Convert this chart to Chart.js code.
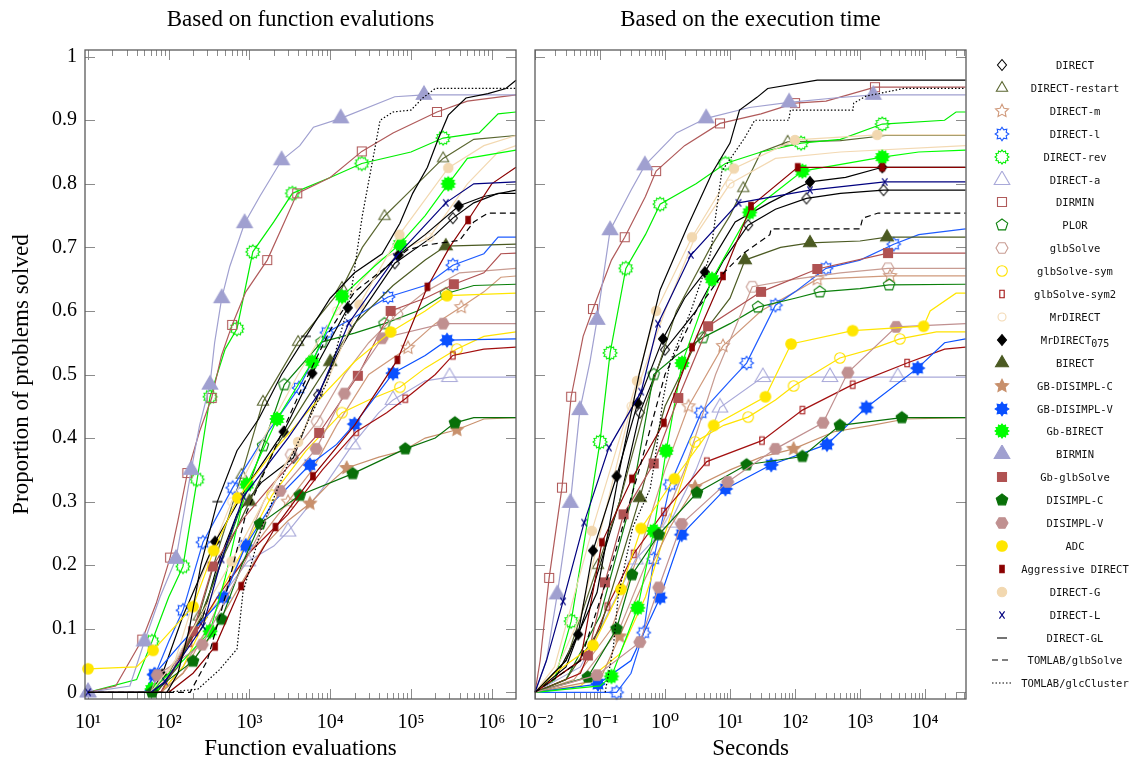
<!DOCTYPE html>
<html><head><meta charset="utf-8">
<script src="https://cdn.jsdelivr.net/npm/chart.js@4.4.1/dist/chart.umd.min.js"></script>
<style>
html,body{margin:0;padding:0;background:#fff;width:1129px;height:761px;overflow:hidden;}
#c1{position:absolute;left:0;top:0;}
#c2{position:absolute;left:520px;top:0;}
#legend{position:absolute;left:985px;top:0;width:144px;height:761px;}
.li{position:absolute;left:0;width:144px;height:20px;}
.li canvas{position:absolute;left:5px;top:1px;}
.li span{position:absolute;left:36px;width:108px;text-align:center;font-family:'DejaVu Sans Mono',monospace;font-size:10.5px;line-height:20px;color:#111;white-space:nowrap;}
.li sub{font-size:10px;vertical-align:-3px;line-height:0;}
</style></head><body>
<canvas id="c1" width="530" height="761"></canvas>
<canvas id="c2" width="460" height="761"></canvas>
<div id="legend"></div>
<script>
// ---------- labels ----------
const NAMES = ['DIRECT','DIRECT-restart','DIRECT-m','DIRECT-l','DIRECT-rev','DIRECT-a','DIRMIN','PLOR','glbSolve','glbSolve-sym','glbSolve-sym2','MrDIRECT','MrDIRECT075','BIRECT','GB-DISIMPL-C','GB-DISIMPL-V','Gb-BIRECT','BIRMIN','Gb-glbSolve','DISIMPL-C','DISIMPL-V','ADC','Aggressive DIRECT','DIRECT-G','DIRECT-L','DIRECT-GL','TOMLAB/glbSolve','TOMLAB/glcCluster'];
const feTicks = [1e1,1e2,1e3,1e4,1e5,1e6];
const feTickLabels = ['10¹','10²','10³','10⁴','10⁵','10⁶'];
const tTicks = [1e-2,1e-1,1e0,1e1,1e2,1e3,1e4];
const tTickLabels = ['10⁻²','10⁻¹','10⁰','10¹','10²','10³','10⁴'];
const yTicks = [0,0.1,0.2,0.3,0.4,0.5,0.6,0.7,0.8,0.9,1];
const yTickLabels = ['0','0.1','0.2','0.3','0.4','0.5','0.6','0.7','0.8','0.9','1'];

// ---------- data: [x, proportion, marker?] ----------
// function evaluations
const fe_DIRECT = [[10,0],[70,0],[110,0.03],[190,0.09],[265,0.119,1],[400,0.2],[700,0.28],[1400,0.33],[3500,0.369,1],[5000,0.42],[7100,0.468,1],[12000,0.53],[25000,0.6],[63000,0.675,1],[120000,0.7],[200000,0.72],[330000,0.746,1],[600000,0.77],[1200000,0.785],[2000000,0.785]];
const fe_DIRECTrestart = [[10,0],[60,0],[100,0.03],[150,0.07],[235,0.119,1],[400,0.22],[800,0.342,1],[1470,0.457,1],[4000,0.551,1],[14000,0.636,1],[25000,0.7],[47000,0.749,1],[100000,0.79],[250000,0.84,1],[600000,0.87],[2000000,0.876]];
const fe_DIRECTm = [[10,0],[80,0],[150,0.03],[300,0.1],[600,0.18],[1500,0.25],[3000,0.3,1],[6000,0.35],[12000,0.42],[30000,0.5],[92000,0.542,1],[200000,0.58],[420000,0.606,1],[800000,0.63],[1300000,0.653],[2000000,0.655]];
const fe_DIRECTl = [[10,0],[50,0],[68,0.028,1],[100,0.08],[150,0.129,1],[265,0.236,1],[620,0.322,1],[1500,0.4],[4100,0.479,1],[9100,0.566,1],[20000,0.59],[52000,0.622,1],[150000,0.64],[330000,0.672,1],[800000,0.69],[1200000,0.716],[2000000,0.716]];
const fe_DIRECTrev = [[10,0],[40,0.02],[62,0.08,1],[100,0.15],[150,0.198,1],[225,0.335,1],[325,0.465,1],[500,0.54],[700,0.572,1],[1100,0.693,1],[2000,0.74],[3400,0.785,1],[10000,0.81],[24600,0.832,1],[100000,0.85],[250000,0.872,1],[700000,0.88],[1200000,0.91],[2000000,0.913]];
const fe_DIRECTa = [[10,0,1],[60,0],[120,0.05],[300,0.12],[950,0.206,1],[2000,0.23],[3000,0.253,1],[8000,0.32],[19000,0.39,1],[40000,0.44],[60000,0.46,1],[150000,0.49],[300000,0.496,1],[2000000,0.496]];
const fe_DIRMIN = [[10,0],[22,0.01],[47,0.083,1],[70,0.14],[104,0.212,1],[130,0.27],[170,0.345,1],[240,0.41],[340,0.463,1],[450,0.53],[610,0.578,1],[900,0.63],[1660,0.68,1],[2500,0.73],[3900,0.785,1],[10000,0.81],[24600,0.851,1],[60000,0.88],[210000,0.913,1],[500000,0.93],[2000000,0.94]];
const fe_PLOR = [[10,0],[70,0],[120,0.04],[250,0.12],[600,0.25],[1470,0.388,1],[2700,0.484,1],[7800,0.551,1],[20000,0.565],[47000,0.58,1],[120000,0.6],[270000,0.627,1],[600000,0.64],[2000000,0.642]];
const fe_glbSolve = [[10,0],[80,0],[150,0.04],[300,0.1],[700,0.2],[1500,0.3],[3300,0.374,1],[6900,0.426,1],[15000,0.5],[30000,0.55],[67000,0.595,1],[150000,0.63],[400000,0.66],[2000000,0.667]];
const fe_glbSolveSym = [[10,0],[80,0],[150,0.04],[300,0.12],[800,0.22],[1900,0.31,1],[5000,0.38],[14000,0.44,1],[30000,0.46],[73000,0.48,1],[150000,0.51],[370000,0.54,1],[800000,0.56],[2000000,0.567]];
const fe_glbSolveSym2 = [[10,0],[80,0],[180,0.078,1],[400,0.15],[1000,0.22],[3000,0.28],[8000,0.35],[21000,0.41,1],[50000,0.44],[85000,0.462,1],[200000,0.5],[330000,0.53,1],[800000,0.54],[2000000,0.543]];
const fe_MrDIRECT = [[10,0],[70,0],[120,0.05],[250,0.18],[600,0.3,1],[1500,0.4],[4000,0.5],[12000,0.6,1],[40000,0.68],[170000,0.716,1],[500000,0.8],[1200000,0.85],[2000000,0.86]];
const fe_MrDIRECT075 = [[10,0],[60,0],[83,0.028,1],[150,0.12],[375,0.237,1],[1000,0.33],[2650,0.41,1],[6000,0.502,1],[16500,0.605,1],[35000,0.65],[70000,0.688,1],[150000,0.72],[390000,0.765,1],[800000,0.78],[2000000,0.79]];
const fe_BIRECT = [[10,0],[70,0],[130,0.04],[250,0.12],[500,0.22],[1000,0.3,1],[2000,0.38],[5000,0.46],[10000,0.52,1],[20000,0.58],[60000,0.64],[150000,0.68],[270000,0.702,1],[2000000,0.705]];
const fe_GBDISIMPLC = [[10,0],[80,0],[150,0.03],[300,0.08],[700,0.16],[1500,0.23],[3000,0.27],[5600,0.297,1],[10000,0.33],[16000,0.353,1],[40000,0.37],[80000,0.38],[150000,0.4],[370000,0.413,1],[800000,0.43],[2000000,0.432]];
const fe_GBDISIMPLV = [[10,0],[50,0],[66,0.028,1],[150,0.08],[480,0.149,1],[900,0.231,1],[2000,0.3],[5600,0.358,1],[12000,0.39],[20000,0.422,1],[60000,0.502,1],[150000,0.53],[280000,0.554,1],[2000000,0.556]];
const fe_GbBIRECT = [[10,0],[50,0],[62,0.005,1],[150,0.05],[325,0.096,1],[500,0.18],[930,0.327,1],[2200,0.43,1],[6000,0.52,1],[14000,0.623,1],[35000,0.67],[73000,0.705,1],[150000,0.75],[290000,0.8,1],[500000,0.84],[2000000,0.853]];
const fe_BIRMIN = [[10,0,1],[33,0.01],[50,0.08,1],[78,0.15],[123,0.21,1],[158,0.29],[190,0.35,1],[241,0.42],[324,0.484,1],[370,0.55],[453,0.62,1],[570,0.67],[870,0.738,1],[1340,0.78],[2500,0.837,1],[4200,0.86],[6200,0.889],[13500,0.903,1],[63000,0.937],[145000,0.94,1],[2000000,0.94]];
const fe_GbglbSolve = [[10,0],[80,0],[200,0.096,1],[350,0.198,1],[800,0.27],[2000,0.33],[7300,0.408,1],[22000,0.498,1],[56000,0.6,1],[150000,0.62],[340000,0.642,1],[800000,0.66],[1300000,0.69],[2000000,0.691]];
const fe_DISIMPLC = [[10,0],[62,0,1],[100,0.02],[200,0.049,1],[450,0.115,1],[800,0.2],[1350,0.265,1],[4200,0.31,1],[19000,0.344,1],[85000,0.383,1],[200000,0.4],[350000,0.424,1],[600000,0.432],[2000000,0.432]];
const fe_DISIMPLV = [[10,0],[60,0],[72,0.027,1],[260,0.075,1],[700,0.18],[2400,0.317,1],[6700,0.383,1],[15000,0.47,1],[44000,0.557,1],[250000,0.58,1],[2000000,0.58]];
const fe_ADC = [[10,0.037,1],[40,0.04],[64,0.066,1],[200,0.135,1],[360,0.223,1],[720,0.306,1],[2000,0.38],[6000,0.45],[20000,0.52],[56000,0.567,1],[150000,0.6],[280000,0.624,1],[2000000,0.628]];
const fe_Aggressive = [[10,0],[100,0],[200,0.03],[375,0.072,1],[790,0.167,1],[2100,0.26,1],[6100,0.34,1],[20000,0.42],[68000,0.523,1],[160000,0.638,1],[300000,0.7],[510000,0.743,1],[1000000,0.8],[2000000,0.826]];
const fe_DIRECTG = [[10,0],[60,0],[120,0.05],[600,0.206,1],[1500,0.3],[4000,0.394,1],[10000,0.5],[23000,0.61,1],[72000,0.72,1],[290000,0.825,1],[800000,0.86],[2000000,0.876]];
const fe_DIRECTL = [[10,0,1],[60,0],[90,0.017,1],[265,0.104,1],[450,0.209,1],[840,0.308,1],[3000,0.4],[7300,0.471,1],[17000,0.581,1],[65000,0.685,1],[270000,0.77,1],[600000,0.8],[2000000,0.803]];
const fe_DIRECTGL = [[10,0],[95,0],[130,0.03],[180,0.1],[250,0.2],[400,0.3,1],[700,0.38],[1300,0.43],[2500,0.5],[5000,0.56,1],[10000,0.62],[20000,0.66],[44000,0.69],[73000,0.738],[105000,0.785],[160000,0.826],[215000,0.869],[290000,0.908],[480000,0.935],[900000,0.942],[1500000,0.95],[2000000,0.963]];
const fe_TOMLABglb = [[10,0],[184,0],[300,0.05],[500,0.15],[900,0.28],[2000,0.38],[4500,0.48],[10000,0.57],[20000,0.63],[45000,0.665],[90000,0.696],[160000,0.704],[400000,0.711],[600000,0.74],[900000,0.754],[2000000,0.754]];
const fe_TOMLABglc = [[93,0],[230,0.005],[420,0.035],[700,0.068],[830,0.157],[1420,0.26],[3000,0.36],[6000,0.44],[9300,0.49],[17700,0.62],[25000,0.75],[41500,0.9],[60000,0.913],[100000,0.916],[140000,0.935],[200000,0.95],[2000000,0.95]];

// execution time (seconds)
const t_DIRECT = [[0.01,0],[0.02,0.02],[0.05,0.1],[0.1,0.2],[0.2,0.3],[0.41,0.44,1],[1.0,0.539,1],[3,0.6],[8,0.68],[19,0.735,1],[50,0.76],[150,0.777,1],[500,0.785],[2300,0.79,1],[42000,0.79]];
const t_DIRECTrestart = [[0.01,0],[0.03,0.05],[0.093,0.2,1],[0.2,0.3],[0.5,0.45],[1.5,0.6],[5,0.7],[10,0.75],[16,0.793,1],[30,0.85],[77,0.866,1],[500,0.868],[2500,0.876],[42000,0.876]];
const t_DIRECTm = [[0.01,0],[0.04,0.02],[0.15,0.1],[0.4,0.22],[1,0.35],[2.3,0.45,1],[7.8,0.545,1],[30,0.6],[100,0.63],[220,0.65,1],[2900,0.655,1],[42000,0.655]];
const t_DIRECTl = [[0.01,0],[0.18,0,1],[0.3,0.03],[0.47,0.094,1],[0.67,0.21,1],[1.2,0.327,1],[3.6,0.44,1],[10,0.49],[18,0.518,1],[50,0.609,1],[100,0.63],[300,0.667,1],[1000,0.68],[3300,0.705,1],[8000,0.72],[42000,0.729]];
const t_DIRECTrev = [[0.01,0],[0.02,0.02],[0.036,0.112,1],[0.06,0.25],[0.1,0.394,1],[0.143,0.534,1],[0.25,0.667,1],[0.5,0.72],[0.84,0.768,1],[3,0.8],[8.5,0.832,1],[30,0.85],[124,0.864,1],[500,0.87],[2200,0.894,1],[20000,0.9],[30000,0.913],[42000,0.913]];
const t_DIRECTa = [[0.01,0],[0.05,0.04],[0.1,0.1],[0.35,0.209,1],[1.2,0.267,1],[3,0.35],[7,0.448,1],[32,0.496,1],[345,0.496,1],[3800,0.496,1],[42000,0.496]];
const t_DIRMIN = [[0.01,0],[0.012,0.05],[0.0165,0.18,1],[0.026,0.322,1],[0.036,0.465,1],[0.055,0.56],[0.078,0.603,1],[0.15,0.68],[0.24,0.716,1],[0.5,0.78],[0.73,0.82,1],[2,0.86],[7,0.895,1],[30,0.91],[100,0.927,1],[300,0.93],[1700,0.952,1],[42000,0.952]];
const t_PLOR = [[0.01,0],[0.03,0.02],[0.1,0.12],[0.3,0.3],[0.67,0.5,1],[1.5,0.53],[3.8,0.558,1],[10,0.58],[27,0.606,1],[100,0.62],[240,0.63,1],[1000,0.635],[2800,0.641,1],[42000,0.642]];
const t_glbSolve = [[0.01,0],[0.05,0.02],[0.2,0.1],[0.6,0.22],[2,0.35],[6,0.5],[22,0.638,1],[100,0.65],[500,0.66],[2700,0.667,1],[42000,0.667]];
const t_glbSolveSym = [[0.01,0],[0.05,0.01],[0.2,0.06],[0.5,0.15],[1,0.25],[2.9,0.394,1],[8,0.42],[19,0.433,1],[50,0.46],[95,0.482,1],[490,0.526,1],[1500,0.54],[4100,0.556,1],[15000,0.567],[42000,0.567]];
const t_glbSolveSym2 = [[0.01,0],[0.05,0.03],[0.13,0.135,1],[0.33,0.218,1],[0.96,0.284,1],[4.4,0.363,1],[31,0.396,1],[130,0.444,1],[770,0.484,1],[5300,0.518,1],[20000,0.54],[42000,0.543]];
const t_MrDIRECT = [[0.01,0],[0.02,0.03],[0.05,0.12],[0.1,0.25],[0.3,0.45,1],[1,0.6],[3,0.72],[10,0.8,1],[50,0.84],[500,0.85],[42000,0.86]];
const t_MrDIRECT075 = [[0.01,0],[0.03,0.04],[0.046,0.091,1],[0.078,0.223,1],[0.18,0.34,1],[0.38,0.455,1],[0.93,0.556,1],[2,0.62],[4.1,0.661,1],[12,0.74],[40,0.77],[170,0.803,1],[600,0.81],[2200,0.826,1],[42000,0.826]];
const t_BIRECT = [[0.01,0],[0.03,0.02],[0.1,0.1],[0.41,0.306,1],[1,0.45],[3,0.55],[10,0.62],[17,0.68,1],[60,0.7],[170,0.707,1],[1000,0.71],[2600,0.716,1],[42000,0.716]];
const t_GBDISIMPLC = [[0.01,0],[0.1,0.02],[0.2,0.088,1],[0.5,0.18],[1.2,0.26],[2.9,0.323,1],[10,0.35],[30,0.37],[95,0.383,1],[400,0.41],[1500,0.42],[5000,0.43],[42000,0.432]];
const t_GBDISIMPLV = [[0.01,0],[0.093,0.013,1],[0.3,0.05],[0.84,0.149,1],[1.8,0.248,1],[8.5,0.32,1],[43,0.358,1],[310,0.39,1],[1250,0.448,1],[7700,0.51,1],[20000,0.55],[42000,0.556]];
const t_GbBIRECT = [[0.01,0],[0.1,0.01],[0.15,0.025,1],[0.38,0.133,1],[0.67,0.254,1],[1.04,0.38,1],[1.83,0.518,1],[5.3,0.65,1],[20,0.755,1],[130,0.82,1],[2200,0.842,1],[8000,0.85],[42000,0.853]];
const t_BIRMIN = [[0.01,0],[0.015,0.05],[0.022,0.154,1],[0.035,0.298,1],[0.049,0.444,1],[0.07,0.52],[0.09,0.586,1],[0.143,0.727,1],[0.3,0.79],[0.49,0.829,1],[1.5,0.88],[4.3,0.903,1],[20,0.92],[81,0.928,1],[400,0.935],[1600,0.94,1],[42000,0.94]];
const t_GbglbSolve = [[0.01,0],[0.065,0.058,1],[0.119,0.173,1],[0.23,0.28,1],[0.67,0.36,1],[1.6,0.463,1],[4.6,0.576,1],[30,0.63,1],[220,0.666,1],[2700,0.691,1],[42000,0.691]];
const t_DISIMPLC = [[0.01,0],[0.065,0.024,1],[0.18,0.1,1],[0.31,0.185,1],[0.8,0.248,1],[3.1,0.314,1],[18,0.358,1],[130,0.371,1],[490,0.42,1],[4400,0.432,1],[42000,0.432]];
const t_DISIMPLV = [[0.01,0],[0.09,0.027,1],[0.41,0.079,1],[0.8,0.165,1],[1.8,0.265,1],[9.2,0.331,1],[50,0.383,1],[270,0.424,1],[650,0.503,1],[3600,0.575,1],[42000,0.58]];
const t_ADC = [[0.01,0],[0.02,0.03],[0.078,0.074,1],[0.21,0.162,1],[0.43,0.258,1],[1.4,0.336,1],[5.6,0.42,1],[35,0.465,1],[87,0.548,1],[770,0.569,1],[9500,0.576,1],[12000,0.6],[30000,0.628],[42000,0.628]];
const t_Aggressive = [[0.01,0],[0.05,0.05],[0.107,0.236,1],[0.31,0.336,1],[0.96,0.424,1],[2.6,0.543,1],[7.8,0.655,1],[21,0.765,1],[110,0.826,1],[2200,0.826,1],[42000,0.826]];
const t_DIRECTG = [[0.01,0],[0.02,0.04],[0.075,0.254,1],[0.37,0.49,1],[0.73,0.6,1],[2.6,0.716,1],[11.5,0.824,1],[100,0.869,1],[1840,0.877,1],[42000,0.877]];
const t_DIRECTL = [[0.01,0],[0.015,0.05],[0.027,0.143,1],[0.057,0.267,1],[0.137,0.385,1],[0.43,0.473,1],[0.78,0.58,1],[2.5,0.688,1],[13.5,0.77,1],[170,0.79,1],[2400,0.803,1],[42000,0.803]];
const t_DIRECTGL = [[0.01,0],[0.03,0.05],[0.09,0.157],[0.2,0.35],[0.4,0.5],[0.84,0.633],[2.2,0.732],[5.3,0.817],[10,0.864],[14,0.916],[26,0.936],[38,0.95],[220,0.963],[42000,0.963]];
const t_TOMLABglb = [[0.01,0],[0.05,0.05],[0.15,0.2],[0.4,0.35],[1,0.5],[3,0.6],[8,0.66],[15.7,0.69],[41,0.72],[43,0.729],[1000,0.729],[1100,0.746],[1900,0.754],[42000,0.754]];
const t_TOMLABglc = [[0.12,0],[0.16,0.07],[0.19,0.15],[0.24,0.2],[0.32,0.26],[0.59,0.32],[0.7,0.366],[0.93,0.46],[1.2,0.52],[2.5,0.6],[5,0.69],[7.5,0.82],[17,0.873],[24,0.9],[80,0.9],[85,0.916],[780,0.916],[800,0.927],[1250,0.938],[4700,0.95],[42000,0.95]];

const FE = [fe_DIRECT,fe_DIRECTrestart,fe_DIRECTm,fe_DIRECTl,fe_DIRECTrev,fe_DIRECTa,fe_DIRMIN,fe_PLOR,fe_glbSolve,fe_glbSolveSym,fe_glbSolveSym2,fe_MrDIRECT,fe_MrDIRECT075,fe_BIRECT,fe_GBDISIMPLC,fe_GBDISIMPLV,fe_GbBIRECT,fe_BIRMIN,fe_GbglbSolve,fe_DISIMPLC,fe_DISIMPLV,fe_ADC,fe_Aggressive,fe_DIRECTG,fe_DIRECTL,fe_DIRECTGL,fe_TOMLABglb,fe_TOMLABglc];
const TT = [t_DIRECT,t_DIRECTrestart,t_DIRECTm,t_DIRECTl,t_DIRECTrev,t_DIRECTa,t_DIRMIN,t_PLOR,t_glbSolve,t_glbSolveSym,t_glbSolveSym2,t_MrDIRECT,t_MrDIRECT075,t_BIRECT,t_GBDISIMPLC,t_GBDISIMPLV,t_GbBIRECT,t_BIRMIN,t_GbglbSolve,t_DISIMPLC,t_DISIMPLV,t_ADC,t_Aggressive,t_DIRECTG,t_DIRECTL,t_DIRECTGL,t_TOMLABglb,t_TOMLABglc];

// ---------- styles ----------
const COLORS = ['#000000','#5a6630','#d09a7c','#1f5cff','#00ee00','#a9a9d9','#b05a5a','#0b800b','#c89c92','#ffe200','#a31010','#f3d9b3','#000000','#4b5a22','#c8906c','#0a50ff','#00ff00','#a0a0d0','#b05252','#087008','#c09090','#ffe600','#8b0000','#f2d8b0','#00007f','#000000','#000000','#000000'];
const SHAPES = ['diamond','triangle','star5','star8','star12','bigtriangle','square','pentagon','hexagon','circle','rect','smallcircle','diamond','midtriangle','star5','star8','star12','bigtriangle','square','pentagon','hexagon','circle','rect','midcircle','x','dash','none','none'];
const FILLED = [0,0,0,0,0,0,0,0,0,0,0,0,1,1,1,1,1,1,1,1,1,1,1,1,0,0,0,0];
const DASHES = [[],[],[],[],[],[],[],[],[],[],[],[],[],[],[],[],[],[],[],[],[],[],[],[],[],[],[6,4],[1.5,2]];

function markerPath(ctx, shape, cx, cy) {
  const poly = (n, r, rot) => { for (let k=0;k<n;k++){ const a=rot+k*2*Math.PI/n; const x=cx+r*Math.cos(a), y=cy+r*Math.sin(a); if(k) ctx.lineTo(x,y); else ctx.moveTo(x,y);} ctx.closePath(); };
  const star = (n, R, r) => { for (let k=0;k<2*n;k++){ const a=-Math.PI/2+k*Math.PI/n; const rr=k%2?r:R; const x=cx+rr*Math.cos(a), y=cy+rr*Math.sin(a); if(k) ctx.lineTo(x,y); else ctx.moveTo(x,y);} ctx.closePath(); };
  switch (shape) {
    case 'diamond': ctx.moveTo(cx,cy-5.5); ctx.lineTo(cx+4.5,cy); ctx.lineTo(cx,cy+5.5); ctx.lineTo(cx-4.5,cy); ctx.closePath(); break;
    case 'triangle': poly(3,6.5,-Math.PI/2); break;
    case 'midtriangle': poly(3,7.5,-Math.PI/2); break;
    case 'bigtriangle': poly(3,9,-Math.PI/2); break;
    case 'star5': star(5,6.8,3.3); break;
    case 'star8': star(8,6.8,4.5); break;
    case 'star12': star(12,7,5.3); break;
    case 'square': ctx.rect(cx-4.5,cy-4.5,9,9); break;
    case 'pentagon': poly(5,6,-Math.PI/2); break;
    case 'hexagon': poly(6,6,0); break;
    case 'circle': ctx.arc(cx,cy,5.3,0,2*Math.PI); break;
    case 'midcircle': ctx.arc(cx,cy,4.7,0,2*Math.PI); break;
    case 'smallcircle': ctx.arc(cx,cy,4.0,0,2*Math.PI); break;
    case 'rect': ctx.rect(cx-2.2,cy-3.8,4.4,7.6); break;
    case 'x': ctx.moveTo(cx-2.6,cy-3.6); ctx.lineTo(cx+2.6,cy+3.6); ctx.moveTo(cx+2.6,cy-3.6); ctx.lineTo(cx-2.6,cy+3.6); break;
    case 'dash': ctx.moveTo(cx-5,cy); ctx.lineTo(cx+5,cy); break;
  }
}
function drawMarker(ctx, i, cx, cy) {
  const shape = SHAPES[i];
  ctx.save();
  ctx.strokeStyle = COLORS[i]; ctx.fillStyle = COLORS[i]; ctx.lineWidth = 1.1;
  if (shape === 'none') {
    ctx.setLineDash(DASHES[i]); ctx.beginPath(); ctx.moveTo(cx-10,cy); ctx.lineTo(cx+10,cy); ctx.stroke();
  } else {
    ctx.beginPath(); markerPath(ctx, shape, cx, cy);
    if (FILLED[i]) ctx.fill();
    ctx.stroke();
  }
  ctx.restore();
}
function markerCanvas(i) {
  const c = document.createElement('canvas'); c.width = 22; c.height = 22;
  drawMarker(c.getContext('2d'), i, 11, 11);
  return c;
}
const MARKERS = NAMES.map((n,i) => markerCanvas(i));

// ---------- legend ----------
const legend = document.getElementById('legend');
NAMES.forEach((n,i) => {
  const d = document.createElement('div'); d.className = 'li';
  d.style.top = (65 + i*22.9 - 10) + 'px';
  const c = document.createElement('canvas'); c.width = 24; c.height = 18;
  drawMarker(c.getContext('2d'), i, 12, 9);
  const s = document.createElement('span');
  if (n === 'MrDIRECT075') s.innerHTML = 'MrDIRECT<sub>075</sub>'; else s.textContent = n;
  d.appendChild(c); d.appendChild(s); legend.appendChild(d);
});

// ---------- chart helpers ----------
function minorTicks(lo, hi, min, max) {
  const out = [];
  for (let e = lo; e <= hi; e++) for (let k = 2; k <= 9; k++) { const v = k*Math.pow(10,e); if (v > min && v < max) out.push(v); }
  return out;
}
const frameTicks = {
  id: 'frameTicks',
  beforeDatasetsDraw(chart, args, o) {
    const {ctx, chartArea: a, scales: {x, y}} = chart;
    ctx.save(); ctx.strokeStyle = '#8c8c8c'; ctx.lineWidth = 1; ctx.beginPath();
    const vt = (v, len) => { const px = Math.round(x.getPixelForValue(v)) + 0.5; ctx.moveTo(px, a.bottom); ctx.lineTo(px, a.bottom - len); ctx.moveTo(px, a.top); ctx.lineTo(px, a.top + len); };
    o.xMajor.forEach(v => vt(v, 10));
    o.xMinor.forEach(v => vt(v, 6));
    o.yMajor.forEach(v => { const py = Math.round(y.getPixelForValue(v)) + 0.5; ctx.moveTo(a.left, py); ctx.lineTo(a.left + 10, py); ctx.moveTo(a.right, py); ctx.lineTo(a.right - 10, py); });
    ctx.stroke(); ctx.restore();
  },
  afterDatasetsDraw(chart) {
    const {ctx, chartArea: a} = chart;
    ctx.save(); ctx.strokeStyle = '#5a5a5a'; ctx.lineWidth = 1.3;
    ctx.strokeRect(a.left, a.top, a.right - a.left, a.bottom - a.top);
    ctx.restore();
  }
};
function datasets(src) {
  return src.map((arr, i) => ({
    label: NAMES[i],
    data: arr.map(p => ({x: p[0], y: p[1], m: p[2] ? 1 : 0})),
    borderColor: COLORS[i], backgroundColor: COLORS[i],
    borderWidth: 1.2, borderDash: DASHES[i],
    pointStyle: MARKERS[i],
    pointRadius: c => (c.raw && c.raw.m) ? 6 : 0,
    pointHoverRadius: 0, pointHitRadius: 0,
    tension: 0, fill: false, clip: false,
    order: NAMES.length - i
  }));
}
const SERIF = 'Liberation Serif, DejaVu Serif, serif';
function makeChart(id, src, o) {
  return new Chart(document.getElementById(id), {
    type: 'line',
    data: { datasets: datasets(src) },
    plugins: [frameTicks],
    options: {
      responsive: false, animation: false, events: [],
      layout: { padding: { left: 0, right: 14, top: 0, bottom: 0 } },
      plugins: {
        legend: { display: false }, tooltip: { enabled: false },
        title: { display: true, text: o.title, fullSize: false, color: '#000',
                 font: { family: SERIF, size: 23, weight: 'normal', lineHeight: 1.2 },
                 padding: { top: 6, bottom: 16.4 } },
        frameTicks: { xMajor: o.ticks, xMinor: o.minor, yMajor: yTicks }
      },
      scales: {
        x: {
          type: 'logarithmic', min: o.min, max: o.max,
          grid: { display: false, drawTicks: false }, border: { display: false },
          afterBuildTicks: s => { s.ticks = o.ticks.map(v => ({ value: v, major: true })); },
          afterFit: s => { s.height = 62; s.paddingLeft = 0; s.paddingRight = 0; },
          ticks: { autoSkip: false, maxRotation: 0, padding: 12, color: '#000',
                   font: { family: SERIF, size: 20 },
                   callback: (v, idx) => o.labels[idx] },
          title: { display: true, text: o.xTitle, color: '#000',
                   font: { family: SERIF, size: 23, lineHeight: 1.0 }, padding: { top: 0, bottom: 1 } }
        },
        y: {
          type: 'linear', min: -0.0105, max: 1.0105,
          grid: { display: false, drawTicks: false }, border: { display: false },
          afterBuildTicks: s => { s.ticks = yTicks.map(v => ({ value: v })); },
          afterFit: s => { s.width = o.yWidth; s.paddingTop = 0; s.paddingBottom = 0; },
          ticks: { display: o.yLabels, autoSkip: false, padding: 8, color: '#000',
                   font: { family: SERIF, size: 20 },
                   callback: (v, idx) => yTickLabels[idx] },
          title: { display: o.yLabels, text: 'Proportion of problems solved', color: '#000',
                   font: { family: SERIF, size: 23, lineHeight: 1.0 }, padding: { top: 10, bottom: 0 } }
        }
      }
    }
  });
}
makeChart('c1', FE, {
  title: 'Based on function evalutions', xTitle: 'Function evaluations',
  min: 9.18, max: 2.0e6, ticks: feTicks, labels: feTickLabels,
  minor: minorTicks(0, 6, 9.18, 2.0e6), yWidth: 85, yLabels: true
});
makeChart('c2', TT, {
  title: 'Based on the execution time', xTitle: 'Seconds',
  min: 0.01, max: 42700, ticks: tTicks, labels: tTickLabels,
  minor: minorTicks(-2, 4, 0.01, 42700), yWidth: 15, yLabels: false
});
</script>
</body></html>
